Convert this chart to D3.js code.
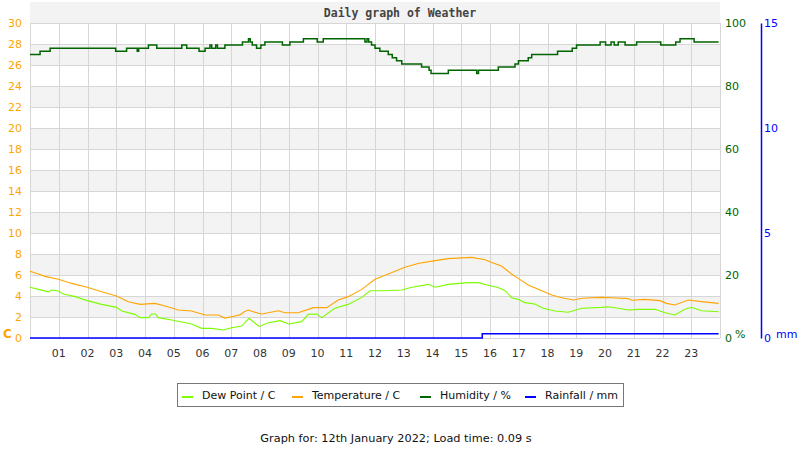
<!DOCTYPE html>
<html>
    <head>
        <meta charset="utf-8"/>
        <title> Daily graph of Weather </title>
        <script src="https://d3js.org/d3.v7.min.js"></script>
        <style>
            body { margin: 0; background: #fff; }
            text { font-family: "DejaVu Sans", sans-serif; font-size: 11px; }
            .title { font-family: "DejaVu Sans Mono", monospace; font-weight: bold; font-size: 11.5px; fill: #444; }
        </style>
    </head>

    <body>
        <svg id="weather" width="800" height="450"></svg>

        <script>
            // hour ticks along the bottom
            var hourLabels = ["01","02","03","04","05","06","07","08","09","10","11","12",
                              "13","14","15","16","17","18","19","20","21","22","23"];
            var tempTicks = [0,2,4,6,8,10,12,14,16,18,20,22,24,26,28,30];
            var humTicks = [0,20,40,60,80,100];
            var rainTicks = [0,5,10,15];

            // temperature / C (hour of day, value)
            var tempHours = [0,0.29,0.52,0.99,1.45,1.99,2.49,3.01,3.42,3.83,4.35,4.7,5.16,5.62,6.09,6.55,6.78,
                             7.13,7.3,7.45,7.59,7.94,8.06,8.64,8.87,9.33,9.86,10.32,10.72,11.07,11.54,12.0,12.46,
                             13.04,13.5,14.09,14.55,15.36,15.83,16.06,16.4,16.75,16.98,17.33,17.8,18.15,18.49,
                             18.9,19.19,19.88,20.23,20.81,20.93,21.39,21.91,22.14,22.43,22.9,23.36,23.95];
            var tempValues = [6.35,6.1,5.87,5.6,5.2,4.83,4.4,4.0,3.46,3.2,3.3,3.05,2.67,2.57,2.19,2.19,1.9,
                              2.1,2.2,2.5,2.67,2.35,2.29,2.6,2.41,2.41,2.89,2.89,3.62,3.94,4.63,5.59,6.1,
                              6.73,7.1,7.37,7.56,7.68,7.46,7.2,6.86,6.1,5.68,5.05,4.5,4.1,3.84,
                              3.62,3.78,3.87,3.84,3.75,3.59,3.68,3.56,3.3,3.14,3.62,3.46,3.3];

            // dew point / C
            var dewHours = [0,0.29,0.64,0.75,0.99,1.16,1.57,1.99,2.49,3.01,3.19,3.65,3.83,4.12,4.23,4.37,4.46,
                            4.93,5.28,5.62,5.97,6.32,6.72,7.01,7.36,7.62,7.83,7.97,8.29,8.7,8.99,9.45,9.68,
                            9.97,10.15,10.6,11.07,11.54,11.83,12.35,12.93,13.28,13.86,14.09,14.55,15.25,15.6,
                            15.9,16.3,16.53,16.75,16.98,17.21,17.56,17.85,18.26,18.72,19.19,19.88,20.11,20.46,
                            20.81,21.16,21.74,22.09,22.43,22.78,23.01,23.36,23.95];
            var dewValues = [4.83,4.63,4.4,4.57,4.48,4.19,3.94,3.56,3.2,2.92,2.57,2.25,1.94,1.94,2.29,2.29,1.94,
                             1.71,1.52,1.33,0.92,0.92,0.76,0.98,1.14,1.87,1.4,1.1,1.46,1.65,1.33,1.56,2.25,
                             2.29,1.94,2.83,3.2,3.87,4.5,4.5,4.57,4.83,5.11,4.83,5.11,5.27,5.27,
                             5.05,4.79,4.5,3.84,3.68,3.37,3.24,2.83,2.57,2.45,2.83,2.92,2.98,2.83,
                             2.67,2.73,2.73,2.41,2.19,2.73,2.92,2.6,2.5];

            // humidity / % (steps: value holds from this hour on)
            var humHours = [0,0.35,0.7,2.98,3.36,3.73,3.78,4.12,4.41,5.28,5.45,5.88,6.09,6.26,6.32,6.46,6.52,
                            6.78,7.39,7.6,7.66,7.73,7.88,8.03,8.17,8.78,9.04,9.51,9.99,10.2,11.65,11.72,11.78,
                            11.88,12.0,12.17,12.46,12.6,12.75,12.93,13.62,13.88,13.95,14.55,15.54,15.6,16.29,
                            16.87,16.99,17.33,17.45,18.35,18.86,19.01,19.83,20.02,20.21,20.32,20.46,20.7,21.1,
                            21.94,22.46,22.61,23.1,23.95];
            var humValues = [90,91,92,91,92,91,92,93,92,93,92,91,92,93,92,93,92,
                             93,94,95,94,93,92,93,94,93,94,95,94,95,94,95,94,
                             93,92,91,90,89,88,87,86,85,84,85,84,85,86,
                             87,88,89,90,91,92,93,94,93,94,93,94,93,94,
                             93,94,95,94,94];

            // rainfall / mm
            var rainHours = [0,15.73,23.95];
            var rainValues = [0,0.2,0.2];

            var legendNames = ["Dew Point / C","Temperature / C","Humidity / %","Rainfall / mm"];
            var legendColors = ["#7cfc00","#ffa500","#006400","#0000ff"];

            var svg = d3.select("#weather");
            var plotLeft = 30, plotRight = 720, plotTop = 23, plotBottom = 338;

            var x = d3.scaleLinear().domain([0, 24]).range([plotLeft, plotRight]);
            var yT = d3.scaleLinear().domain([0, 30]).range([plotBottom, plotTop]);
            var yH = d3.scaleLinear().domain([0, 100]).range([plotBottom, plotTop]);
            var yR = d3.scaleLinear().domain([0, 15]).range([plotBottom, plotTop]);

            // grey bands every other 2 degrees
            svg.selectAll("rect.band")
                .data(tempTicks.filter(function(t){ return t % 4 == 2; }))
                .enter().append("rect")
                .attr("x", plotLeft)
                .attr("width", plotRight - plotLeft)
                .attr("y", function(t){ return yT(t + 2); })
                .attr("height", function(t){ return yT(t) - yT(t + 2); })
                .attr("fill", "#f3f3f3");

            // grid lines
            svg.selectAll("line.hgrid")
                .data(tempTicks)
                .enter().append("line")
                .attr("x1", plotLeft).attr("x2", plotRight)
                .attr("y1", function(t){ return Math.round(yT(t)) + 0.5; })
                .attr("y2", function(t){ return Math.round(yT(t)) + 0.5; })
                .attr("stroke", "#d6d6d6");

            svg.selectAll("line.vgrid")
                .data(d3.range(0, 25))
                .enter().append("line")
                .attr("y1", plotTop).attr("y2", plotBottom)
                .attr("x1", function(h){ return Math.round(x(h)) + 0.5; })
                .attr("x2", function(h){ return Math.round(x(h)) + 0.5; })
                .attr("stroke", "#d6d6d6");

            // left axis (temperature)
            var axT = svg.append("g")
                .attr("transform", "translate(" + plotLeft + ",0)")
                .call(d3.axisLeft(yT).tickValues(tempTicks).tickSize(0).tickPadding(8));
            axT.select(".domain").remove();
            axT.selectAll("text").attr("fill", "#ffa500").style("font-size", "11px");

            svg.append("text").attr("x", 3).attr("y", 338)
                .attr("fill", "#ffa500").style("font-weight", "bold").style("font-size", "12px")
                .text("C");

            // right axis (humidity)
            var axH = svg.append("g")
                .attr("transform", "translate(" + plotRight + ",0)")
                .call(d3.axisRight(yH).tickValues(humTicks).tickSize(0).tickPadding(5));
            axH.select(".domain").remove();
            axH.selectAll("text").attr("fill", "#006400").style("font-size", "11px");

            svg.append("text").attr("x", 735).attr("y", 338)
                .attr("fill", "#006400").style("font-size", "11px").text("%");

            // far right axis (rainfall)
            var axR = svg.append("g")
                .attr("transform", "translate(761,0)")
                .call(d3.axisRight(yR).tickValues(rainTicks).tickSize(0).tickPadding(3));
            axR.select(".domain").attr("stroke", "#0000ff").attr("stroke-width", 1.5);
            axR.selectAll("text").attr("fill", "#0000ff").style("font-size", "11px");

            svg.append("text").attr("x", 776).attr("y", 338)
                .attr("fill", "#0000ff").style("font-size", "11px").text("mm");

            // hour labels
            svg.selectAll("text.hour")
                .data(hourLabels)
                .enter().append("text")
                .attr("x", function(d){ return x(+d); })
                .attr("y", 357)
                .attr("text-anchor", "middle")
                .attr("fill", "#333")
                .text(function(d){ return d; });

            // lines
            function drawLine(hours, values, yScale, color, curve, width) {
                var pts = hours.map(function(h, i){ return [h, values[i]]; });
                var line = d3.line()
                    .x(function(d){ return x(d[0]); })
                    .y(function(d){ return yScale(d[1]); })
                    .curve(curve);
                svg.append("path")
                    .attr("d", line(pts))
                    .attr("fill", "none")
                    .attr("stroke", color)
                    .attr("stroke-width", width);
            }

            drawLine(rainHours, rainValues, yR, "#0000ff", d3.curveStepAfter, 1.5);
            drawLine(humHours, humValues, yH, "#006400", d3.curveStepAfter, 1.5);
            drawLine(dewHours, dewValues, yT, "#7cfc00", d3.curveLinear, 1.1);
            drawLine(tempHours, tempValues, yT, "#ffa500", d3.curveLinear, 1.1);

            // title
            svg.append("text").attr("class", "title")
                .attr("x", 400).attr("y", 17)
                .attr("text-anchor", "middle")
                .text("Daily graph of Weather");

            // legend
            svg.append("rect")
                .attr("x", 177.5).attr("y", 383.5)
                .attr("width", 446).attr("height", 23)
                .attr("fill", "#fff").attr("stroke", "#777");

            var legendX = [182, 292, 420, 525];
            legendNames.forEach(function(name, i){
                svg.append("line")
                    .attr("x1", legendX[i]).attr("x2", legendX[i] + 11)
                    .attr("y1", 397).attr("y2", 397)
                    .attr("stroke", legendColors[i]).attr("stroke-width", 2);
                svg.append("text")
                    .attr("x", legendX[i] + 20).attr("y", 399)
                    .attr("fill", "#111")
                    .text(name);
            });

            // footer
            svg.append("text")
                .attr("x", 396).attr("y", 442)
                .attr("text-anchor", "middle")
                .attr("fill", "#111")
                .style("font-size", "11.3px")
                .text("Graph for: 12th January 2022; Load time: 0.09 s");
        </script>
    </body>
</html>
